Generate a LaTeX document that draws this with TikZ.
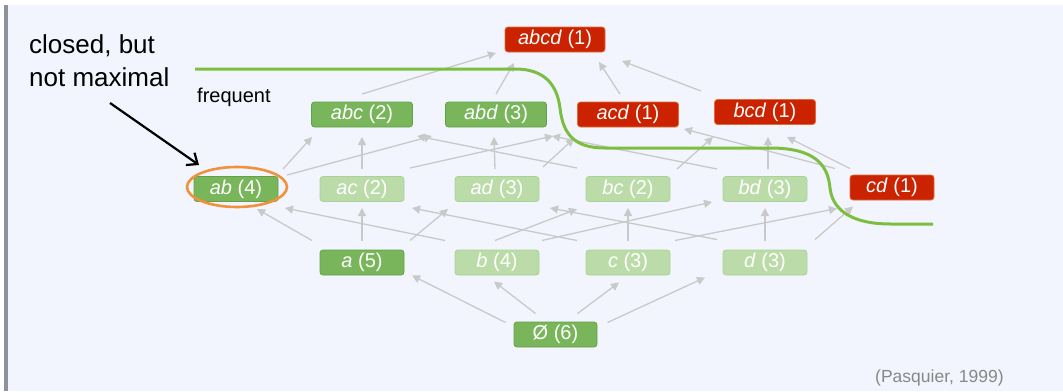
\documentclass[tikz,border=0pt]{standalone}
\usepackage{fontspec}
\setmainfont{Liberation Sans}
\usetikzlibrary{arrows.meta,calc,shapes.geometric}
\definecolor{bg}{HTML}{F2F5FD}
\definecolor{barc}{HTML}{8E9299}
\definecolor{dkg}{HTML}{79B55B}
\definecolor{dkgb}{HTML}{64A047}
\definecolor{ltg}{HTML}{BBDCA9}
\definecolor{ltgb}{HTML}{A9D394}
\definecolor{rd}{HTML}{CB2200}
\definecolor{rdb}{HTML}{E06C3A}
\definecolor{frontc}{HTML}{7DBE41}
\definecolor{ringc}{HTML}{F0923C}
\definecolor{arrc}{HTML}{C9C9C9}
\definecolor{citec}{HTML}{888888}
\tikzset{
  setbox/.style={rounded corners=3pt, minimum height=25pt, inner sep=0pt, text=white,
    font=\fontsize{20}{24}\selectfont, line width=0.8pt},
  freq/.style={setbox, fill=dkg, draw=dkgb},
  light/.style={setbox, fill=ltg, draw=ltgb},
  infreq/.style={setbox, fill=rd, draw=rdb},
  wthree/.style={minimum width=101pt},
  wtwo/.style={minimum width=84pt},
  edge/.style={draw=arrc, line width=1.3pt, -{Triangle[length=8pt,width=8pt]}},
  frontier/.style={draw=frontc, line width=3pt},
  note/.style={anchor=base west, font=\fontsize{26}{32}\selectfont, text=black, inner sep=0pt}
}
\begin{document}
\begin{tikzpicture}[x=1pt,y=-1pt]
\useasboundingbox (0,0) rectangle (1063,391);
\fill[white] (0,0) rectangle (1063,391);
\fill[bg] (8,5) rectangle (1063,391);
\fill[barc] (4,5) rectangle (8,391);

% nodes
\node[infreq,minimum width=100pt] (abcd) at (555,39.5) {\textit{abcd} (1)};
\node[freq,wthree] (abc) at (362,114.5) {\textit{abc} (2)};
\node[freq,wthree] (abd) at (496,114.5) {\textit{abd} (3)};
\node[infreq,wthree] (acd) at (628,114.5) {\textit{acd} (1)};
\node[infreq,wthree] (bcd) at (765,112) {\textit{bcd} (1)};
\node[freq,wtwo] (ab) at (236,189) {\textit{ab} (4)};
\node[light,wtwo] (ac) at (362,189) {\textit{ac} (2)};
\node[light,wtwo] (ad) at (497,189) {\textit{ad} (3)};
\node[light,wtwo] (bc) at (628,189) {\textit{bc} (2)};
\node[light,wtwo] (bd) at (765,189) {\textit{bd} (3)};
\node[infreq,wtwo] (cd) at (892,187.5) {\textit{cd} (1)};
\node[freq,wtwo] (a) at (362,262.5) {\textit{a} (5)};
\node[light,wtwo] (b) at (497,262.5) {\textit{b} (4)};
\node[light,wtwo] (c) at (628,262.5) {\textit{c} (3)};
\node[light,wtwo] (d) at (765,262.5) {\textit{d} (3)};
\node[freq,minimum width=83pt] (empty) at (555.5,334.5) {Ø (6)};

% edges
\draw[edge] ($(empty)+(-50,-12)$) -- ($(a)+(50,13)$);
\draw[edge] ($(empty)+(-20,-21)$) -- ($(b)+(-3,19)$);
\draw[edge] ($(empty)+(22,-21)$) -- ($(c)+(-9,20)$);
\draw[edge] ($(empty)+(52,-12)$) -- ($(d)+(-60,15)$);

\draw[edge] ($(a)+(-50,-22)$) -- ($(ab)+(21,20)$);
\draw[edge] ($(a)+(0,-22)$) -- ($(ac)+(0,19)$);
\draw[edge] ($(a)+(48,-22)$) -- ($(ad)+(-49,20)$);
\draw[edge] ($(b)+(-52,-22)$) -- ($(ab)+(49,19)$);
\draw[edge] ($(b)+(-2,-22)$) -- ($(bc)+(-51,20)$);
\draw[edge] ($(b)+(45,-22)$) -- ($(bd)+(-53,13)$);
\draw[edge] ($(c)+(-51,-22)$) -- ($(ac)+(50,19)$);
\draw[edge] ($(c)+(0,-22)$) -- ($(bc)+(0,19)$);
\draw[edge] ($(c)+(47,-22)$) -- ($(cd)+(-55,21)$);
\draw[edge] ($(d)+(-48,-23)$) -- ($(ad)+(53,19)$);
\draw[edge] ($(d)+(0,-22)$) -- ($(bd)+(0,19)$);
\draw[edge] ($(d)+(50,-23)$) -- ($(cd)+(-39,19)$);

\draw[edge] ($(ab)+(47,-20)$) -- ($(abc)+(-50,22.5)$);
\draw[edge] ($(ab)+(51,-14)$) -- ($(abd)+(-64,21.5)$);
\draw[edge] ($(ac)+(0,-20)$) -- ($(abc)+(0,22.5)$);
\draw[edge] ($(ac)+(48,-21)$) -- ($(acd)+(-75,21.5)$);
\draw[edge] ($(ad)+(-2,-20)$) -- ($(abd)+(-2,22.5)$);
\draw[edge] ($(ad)+(46,-22)$) -- ($(acd)+(-54,24)$);
\draw[edge] ($(bc)+(-51,-21)$) -- ($(abc)+(55,21.5)$);
\draw[edge] ($(bc)+(49,-20)$) -- ($(bcd)+(-52,25)$);
\draw[edge] ($(bd)+(-48,-20)$) -- ($(abd)+(56,21.5)$);
\draw[edge] ($(bd)+(3,-20)$) -- ($(bcd)+(3,25)$);
\draw[edge] ($(cd)+(-57,-19)$) -- ($(acd)+(56,14.5)$);
\draw[edge] ($(cd)+(-42,-19)$) -- ($(bcd)+(22,25)$);

\draw[edge] ($(abc)+(0,-20.5)$) -- ($(abcd)+(-59,13.5)$);
\draw[edge] ($(abd)+(0,-20.5)$) -- ($(abcd)+(-41,23.5)$);
\draw[edge] ($(acd)+(-8,-20.5)$) -- ($(abcd)+(44,22.5)$);
\draw[edge] ($(bcd)+(-64,-21)$) -- ($(abcd)+(67,21.5)$);

% frontier
\coordinate (fstart) at (195,69);
\coordinate (fend) at (933,224);
\draw[frontier] (fstart) -- (515,69) .. controls (545,69) and (557,85) .. (560,108)
  .. controls (563,135) and (575,148) .. (605,148) -- (770,148)
  .. controls (815,148) and (828,165) .. (830,188)
  .. controls (833,215) and (860,224) .. (890,224) -- (fend);
\node[anchor=base west, inner sep=0pt, font=\fontsize{20}{24}\selectfont] (freqlabel) at (197,102) {frequent};

% ring and annotation
\node[draw=ringc, line width=2.6pt, ellipse, minimum width=100pt, minimum height=40pt, inner sep=0pt] (ring) at (237,187) {};
\node[note] (note1) at (29,53) {closed, but};
\node[note] (note2) at (29,86) {not maximal};
\coordinate (ntail) at (110,103);
\coordinate (nhead) at (199,165);
\draw[black, line width=2.2pt, -{Straight Barb[length=9pt,width=15pt,line width=2.2pt]}] (ntail) -- (nhead);

\node[anchor=base west, inner sep=0pt, text=citec, font=\fontsize{17.5}{21}\selectfont] (cite) at (875,382) {(Pasquier, 1999)};
\end{tikzpicture}
\end{document}
